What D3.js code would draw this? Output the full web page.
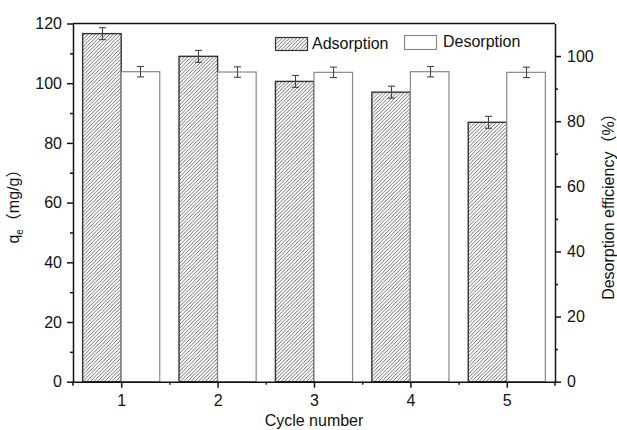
<!DOCTYPE html>
<html>
<head>
<meta charset="utf-8">
<script src="https://cdn.jsdelivr.net/npm/d3@7/dist/d3.min.js"></script>
<style>
  html, body { margin: 0; padding: 0; background: #fff; }
  svg text { font-family: "Liberation Sans", Arial, "Noto Sans CJK SC", sans-serif; fill: #111; }
</style>
</head>
<body>
<svg id="chart" width="617" height="430"></svg>
<script>
// Regeneration cycles
const cycles = [1, 2, 3, 4, 5];
// Adsorption capacity q_e (mg/g), left axis
const adsorption = [116.6, 109.0, 100.6, 97.0, 86.9];
const adsorptionErr = [2.0, 2.0, 2.0, 2.0, 2.0];
// Desorption efficiency (%), right axis
const desorption = [95.2, 95.1, 95.0, 95.2, 95.0];
const desorptionErr = [1.6, 1.6, 1.6, 1.6, 1.6];
// Axis ticks
const leftTicks = [0, 20, 40, 60, 80, 100, 120];
const leftMinor = [10, 30, 50, 70, 90, 110];
const rightTicks = [0, 20, 40, 60, 80, 100];
const rightMinor = [10, 30, 50, 70, 90];
const xMinor = [1.5, 2.5, 3.5, 4.5];
const legendLabels = ["Adsorption", "Desorption"];

const svg = d3.select("#chart");
const L = 73, R = 555, T = 23.5, B = 381.7;
const barW = 0.4;

const x = d3.scaleLinear().domain([0.5, 5.5]).range([L, R]);
const yL = d3.scaleLinear().domain([0, 120]).range([B, T]);
const yR = d3.scaleLinear().domain([0, 110]).range([B, T]);

// hatch pattern for adsorption bars
const defs = svg.append("defs");
const pat = defs.append("pattern")
  .attr("id", "hatch").attr("patternUnits", "userSpaceOnUse")
  .attr("width", 3.6).attr("height", 3.6);
pat.append("path")
  .attr("d", "M-0.9,0.9 L0.9,-0.9 M0,3.6 L3.6,0 M2.7,4.5 L4.5,2.7")
  .attr("stroke", "#444").attr("stroke-width", 0.8);

// Adsorption bars
svg.append("g").selectAll("rect").data(cycles).join("rect")
  .attr("x", (d) => x(d - barW))
  .attr("width", (d) => x(d) - x(d - barW))
  .attr("y", (d, i) => yL(adsorption[i]))
  .attr("height", (d, i) => B - yL(adsorption[i]))
  .attr("fill", "url(#hatch)")
  .attr("stroke", "#333").attr("stroke-width", 1.4);

// Desorption bars
svg.append("g").selectAll("rect").data(cycles).join("rect")
  .attr("x", (d) => x(d))
  .attr("width", (d) => x(d + barW) - x(d))
  .attr("y", (d, i) => yR(desorption[i]))
  .attr("height", (d, i) => B - yR(desorption[i]))
  .attr("fill", "#fff")
  .attr("stroke", "#888").attr("stroke-width", 1.2);

// Error bars
function errorBars(cx, vals, errs, scale) {
  const g = svg.append("g").attr("stroke", "#444").attr("stroke-width", 1.1).attr("fill", "none");
  cycles.forEach((c, i) => {
    const xc = Math.round(cx(c)) + 0.5;
    const y1 = scale(vals[i] + errs[i]), y2 = scale(vals[i] - errs[i]);
    g.append("line").attr("x1", xc).attr("x2", xc).attr("y1", y1).attr("y2", y2);
    g.append("line").attr("x1", xc - 3.5).attr("x2", xc + 3.5).attr("y1", y1).attr("y2", y1);
    g.append("line").attr("x1", xc - 3.5).attr("x2", xc + 3.5).attr("y1", y2).attr("y2", y2);
  });
}
errorBars((c) => x(c - barW / 2), adsorption, adsorptionErr, yL);
errorBars((c) => x(c + barW / 2), desorption, desorptionErr, yR);

// Axes
const fontSize = "16px";
svg.append("g").attr("transform", `translate(0,${B})`)
  .call(d3.axisBottom(x).tickValues(cycles).tickFormat(d3.format("d")).tickSize(6).tickPadding(7).tickSizeOuter(0));
svg.append("g").attr("transform", `translate(0,${B})`)
  .call(d3.axisBottom(x).tickValues(xMinor).tickFormat("").tickSize(3).tickSizeOuter(0))
  .select(".domain").remove();

svg.append("g").attr("transform", `translate(${L},0)`)
  .call(d3.axisLeft(yL).tickValues(leftTicks).tickFormat(d3.format("d")).tickSize(6).tickPadding(5).tickSizeOuter(0));
svg.append("g").attr("transform", `translate(${L},0)`)
  .call(d3.axisLeft(yL).tickValues(leftMinor).tickFormat("").tickSize(3).tickSizeOuter(0))
  .select(".domain").remove();

svg.append("g").attr("transform", `translate(${R},0)`)
  .call(d3.axisRight(yR).tickValues(rightTicks).tickFormat(d3.format("d")).tickSize(6).tickPadding(6).tickSizeOuter(0));
svg.append("g").attr("transform", `translate(${R},0)`)
  .call(d3.axisRight(yR).tickValues(rightMinor).tickFormat("").tickSize(3).tickSizeOuter(0))
  .select(".domain").remove();

svg.selectAll(".tick text").attr("font-size", fontSize).style("font-family", "'Liberation Sans', Arial, sans-serif").attr("fill", "#111");
svg.selectAll(".domain, .tick line").attr("stroke", "#111").attr("stroke-width", 1.5);

// top frame and small extensions at the corners
svg.append("line").attr("x1", L).attr("x2", R).attr("y1", T).attr("y2", T)
  .attr("stroke", "#111").attr("stroke-width", 1.5);
svg.append("line").attr("x1", L).attr("x2", L).attr("y1", B).attr("y2", B + 4)
  .attr("stroke", "#111").attr("stroke-width", 1.5);
svg.append("line").attr("x1", R).attr("x2", R).attr("y1", B).attr("y2", B + 4)
  .attr("stroke", "#111").attr("stroke-width", 1.5);

// Axis titles
svg.append("text").attr("x", (L + R) / 2).attr("y", 426)
  .attr("text-anchor", "middle").attr("font-size", fontSize).text("Cycle number");

const lt = svg.append("text")
  .attr("transform", `translate(19,${(T + B) / 2}) rotate(-90)`)
  .attr("text-anchor", "middle").attr("font-size", fontSize);
lt.append("tspan").text("q");
lt.append("tspan").attr("font-size", "10px").attr("dy", 4).text("e");
lt.append("tspan").attr("dy", -4).text("（mg/g）");

svg.append("text")
  .attr("transform", `translate(614,${(T + B) / 2}) rotate(-90)`)
  .attr("text-anchor", "middle").attr("font-size", fontSize)
  .text("Desorption efficiency（%）");

// Legend
const lg = svg.append("g");
lg.append("rect").attr("x", 275.5).attr("y", 37.5).attr("width", 32).attr("height", 13)
  .attr("fill", "url(#hatch)").attr("stroke", "#333").attr("stroke-width", 1.2);
lg.append("text").attr("x", 312).attr("y", 48.5).attr("font-size", fontSize).text(legendLabels[0]);
lg.append("rect").attr("x", 404.5).attr("y", 35.5).attr("width", 32).attr("height", 14)
  .attr("fill", "#fff").attr("stroke", "#888").attr("stroke-width", 1.2);
lg.append("text").attr("x", 443).attr("y", 47).attr("font-size", fontSize).text(legendLabels[1]);
</script>
</body>
</html>
